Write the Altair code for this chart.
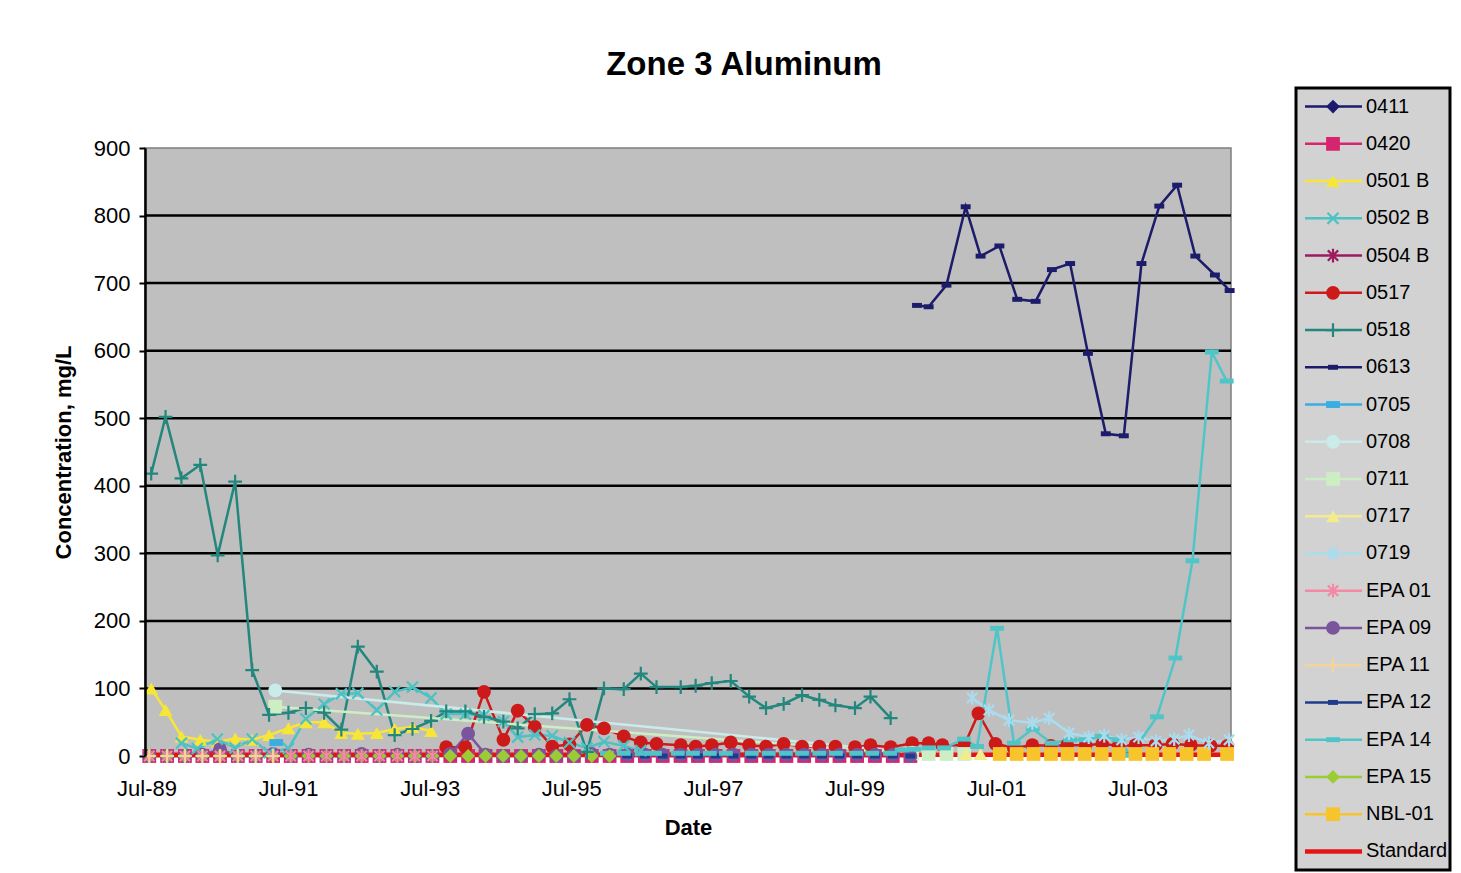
import altair as alt
import pandas as pd

FONT = "Liberation Sans"

SERIES = ["0411", "0420", "0501 B", "0502 B", "0504 B", "0517", "0518", "0613",
          "0705", "0708", "0711", "0717", "0719", "EPA 01", "EPA 09", "EPA 11",
          "EPA 12", "EPA 14", "EPA 15", "NBL-01", "Standard"]
COLORS = ["#1c1a6e", "#d6246e", "#f7e636", "#4cc2c4", "#9c1a5e", "#cc1a1a", "#23877d", "#1c1c6a",
          "#3aaee0", "#c9ecea", "#cdeec4", "#f2ec8c", "#a9dcee", "#f28aa6", "#7a559e", "#f2d49c",
          "#1f3c8c", "#4fc5c8", "#9ccc34", "#f8c42c", "#e41414"]
P_X = "M-0.8,-0.8L0.8,0.8M-0.8,0.8L0.8,-0.8"
P_AST = "M-0.75,-0.75L0.75,0.75M-0.75,0.75L0.75,-0.75M0,-1L0,1"
P_PLUS = "M-1,0L1,0M0,-1L0,1"
P_RECT_S = "M-0.72,-0.36L0.72,-0.36L0.72,0.36L-0.72,0.36Z"
P_RECT_W = "M-1,-0.36L1,-0.36L1,0.36L-1,0.36Z"
P_RECT_M = "M-1,-0.5L1,-0.5L1,0.5L-1,0.5Z"
SHAPES = ["diamond", "square", "triangle-up", P_X, P_AST, "circle", P_PLUS, P_RECT_S,
          P_RECT_M, "circle", "square", "triangle-up", P_AST, P_AST, "circle", P_PLUS,
          P_RECT_S, P_RECT_W, "diamond", "square", "circle"]
STROKED = ["0502 B", "0504 B", "0518", "0719", "EPA 01", "EPA 11"]

Y_TICKS = [0, 100, 200, 300, 400, 500, 600, 700, 800, 900]
GRID_VALUES = [100, 200, 300, 400, 500, 600, 700, 800]
TICK_YEARS = [1989, 1991, 1993, 1995, 1997, 1999, 2001, 2003]
X_START = "1989-06-23"
X_END = "2004-10-25"

Q_DATES = ["1989-07-15", "1989-10-15", "1990-01-15", "1990-04-15", "1990-07-15", "1990-10-15",
           "1991-01-15", "1991-04-15", "1991-07-15", "1991-10-15",
           "1992-01-15", "1992-04-15", "1992-07-15", "1992-10-15",
           "1993-01-15", "1993-04-15", "1993-07-15", "1993-10-15",
           "1994-01-15", "1994-04-15", "1994-07-15", "1994-10-15",
           "1995-01-15", "1995-04-15", "1995-07-15", "1995-10-15",
           "1996-01-15", "1996-04-15", "1996-07-15", "1996-10-15",
           "1997-01-15", "1997-04-15", "1997-07-15", "1997-10-15",
           "1998-01-15", "1998-04-15", "1998-07-15", "1998-10-15",
           "1999-01-15", "1999-04-15", "1999-07-15", "1999-10-15",
           "2000-01-15", "2000-04-15"]

D_0411 = Q_DATES[:8]
V_0411 = [0, 0, 0, 0, 0, 0, 0, 0]

D_0420 = Q_DATES
V_0420 = [0, 0, 0, 0, 0, 0, 0, 0, 0, 0, 0, 0, 0, 0, 0, 0, 0, 0, 0, 0, 0, 0,
          0, 0, 0, 0, 0, 0, 0, 0, 0, 0, 0, 0, 0, 0, 0, 0, 0, 0, 0, 0, 0, 0]

D_0501B = ["1989-07-25", "1989-10-07", "1989-12-28", "1990-04-04", "1990-07-03", "1990-10-01",
           "1990-12-28", "1991-03-25", "1991-07-03", "1991-10-01", "1992-01-03", "1992-04-01",
           "1992-06-25", "1992-10-01", "1993-01-01", "1993-04-03", "1993-07-08"]
V_0501B = [100, 68, 29, 24, 21, 26, 24, 31, 41, 50, 50, 34, 33, 34, 40, 43, 37]

D_0502B = ["1989-12-28", "1990-03-20", "1990-07-01", "1990-10-01", "1990-12-28", "1991-03-25",
           "1991-07-03", "1991-10-01", "1992-01-03", "1992-04-01", "1992-06-25", "1992-10-01",
           "1993-01-01", "1993-04-03", "1993-07-08", "1993-09-24", "1994-01-01", "1994-04-07",
           "1994-07-16", "1994-09-28", "1994-12-25", "1995-03-25", "1995-06-22", "1995-09-20",
           "1995-12-17", "1996-03-28", "1996-06-24"]
V_0502B = [19, 11, 25, 12, 25, 5, 11, 55, 77, 92, 93, 68, 95, 102, 86, 62, 62, 60, 51, 28,
           31, 30, 20, 12, 21, 15, 8]

D_0504B = Q_DATES[:17]
V_0504B = [0, 0, 0, 0, 0, 0, 0, 0, 0, 0, 0, 0, 0, 0, 0, 0, 0]

D_0517 = ["1993-09-24", "1994-01-01", "1994-04-07", "1994-07-16", "1994-09-28", "1994-12-25",
          "1995-03-25", "1995-06-22", "1995-09-20", "1995-12-17", "1996-03-28", "1996-06-24",
          "1996-09-13", "1997-01-16", "1997-04-03", "1997-06-25", "1997-10-01", "1998-01-04",
          "1998-04-01", "1998-07-01", "1998-10-04", "1999-01-01", "1999-03-25", "1999-07-04",
          "1999-09-22", "2000-01-04", "2000-04-24", "2000-07-18", "2000-09-27", "2001-01-18",
          "2001-04-01", "2001-06-28", "2001-10-01", "2002-01-04", "2002-04-10", "2002-07-03",
          "2002-10-06", "2002-12-31", "2003-03-25", "2003-06-20", "2003-10-01", "2003-12-28",
          "2004-04-01", "2004-07-12", "2004-10-06"]
V_0517 = [13, 13, 95, 24, 67, 43, 14, 17, 46, 41, 29, 20, 18, 16, 14, 16, 20, 16, 14, 18,
          14, 14, 14, 13, 16, 13, 19, 19, 16, 16, 63, 18, 12, 16, 15, 16, 16, 18, 15, 16,
          16, 18, 16, 15, 15]

D_0518 = ["1989-07-25", "1989-10-07", "1989-12-28", "1990-04-04", "1990-07-03", "1990-10-01",
          "1990-12-28", "1991-03-25", "1991-07-03", "1991-10-01", "1992-01-03", "1992-04-01",
          "1992-06-25", "1992-10-01", "1993-01-01", "1993-04-03", "1993-07-08", "1993-09-24",
          "1994-01-01", "1994-04-07", "1994-07-16", "1994-09-28", "1994-12-25", "1995-03-25",
          "1995-06-22", "1995-09-20", "1995-12-17", "1996-03-28", "1996-06-24", "1996-09-13",
          "1997-01-16", "1997-04-03", "1997-06-25", "1997-10-01", "1998-01-04", "1998-04-01",
          "1998-07-01", "1998-10-04", "1999-01-01", "1999-03-25", "1999-07-04", "1999-09-22",
          "2000-01-04"]
V_0518 = [418, 502, 411, 431, 297, 406, 127, 61, 64, 71, 64, 39, 162, 125, 31, 40, 52, 66,
          66, 58, 51, 41, 62, 63, 84, 6, 100, 99, 122, 102, 102, 104, 108, 111, 88, 71, 77,
          90, 83, 75, 71, 88, 56]

D_0613 = ["2000-05-19", "2000-07-18", "2000-10-18", "2001-01-25", "2001-04-12", "2001-07-18",
          "2001-10-18", "2002-01-21", "2002-04-15", "2002-07-18", "2002-10-18", "2003-01-18",
          "2003-04-21", "2003-07-21", "2003-10-21", "2004-01-21", "2004-04-24", "2004-08-03",
          "2004-10-18"]
V_0613 = [667, 665, 697, 813, 740, 755, 676, 673, 720, 729, 596, 477, 474, 729, 814, 845,
          740, 712, 689]

D_0705 = ["1991-05-01"]
V_0705 = [20]

D_0708 = ["1991-04-26", "2000-04-24", "2000-07-18", "2000-10-18"]
V_0708 = [97, 5, 4, 3]

D_0711 = ["1991-04-26", "2000-04-24", "2000-07-18", "2000-10-18", "2001-01-18"]
V_0711 = [73, 4, 3, 3, 3]

D_0717 = ["2001-01-25", "2001-04-12"]
V_0717 = [3, 3]

D_0719 = ["2001-02-28", "2001-05-25", "2001-09-05", "2002-01-04", "2002-04-01", "2002-07-12",
          "2002-10-22", "2003-01-10", "2003-04-10", "2003-07-06", "2003-10-04", "2004-01-06",
          "2004-03-22", "2004-07-03", "2004-10-15"]
V_0719 = [86, 68, 53, 49, 56, 34, 28, 30, 24, 28, 22, 25, 31, 19, 24]

D_EPA01 = Q_DATES[:17]
V_EPA01 = [0, 0, 0, 0, 0, 0, 0, 0, 0, 0, 0, 0, 0, 0, 0, 0, 0]

D_EPA09 = Q_DATES
V_EPA09 = [0, 0, 0, 2, 10, 0, 0, 3, 0, 2, 0, 0, 3, 0, 2, 0, 0, 3, 33, 2, 0, 0,
           2, 0, 0, 3, 2, 2, 2, 2, 2, 2, 2, 2, 2, 2, 2, 2, 2, 2, 2, 2, 2, 0]

D_EPA11 = Q_DATES[:8]
V_EPA11 = [0, 0, 0, 0, 0, 0, 0, 0]

D_EPA12 = Q_DATES[26:44]
V_EPA12 = [0, 0, 0, 0, 0, 0, 0, 0, 0, 0, 0, 0, 0, 0, 0, 0, 0, 0]

D_EPA14 = ["1996-01-01", "1996-03-28", "1996-06-28", "1996-09-05", "1997-01-01", "1997-03-20",
           "1997-06-15", "1997-09-06", "1998-01-18", "1998-04-15", "1998-07-12", "1998-10-04",
           "1999-01-01", "1999-03-28", "1999-07-10", "1999-10-01", "2000-01-01", "2000-03-01",
           "2000-05-03", "2000-07-18", "2000-10-06", "2001-01-16", "2001-03-25", "2001-07-06",
           "2001-10-01", "2002-01-06", "2002-04-15", "2002-07-18", "2002-10-06", "2002-12-28",
           "2003-03-25", "2003-05-25", "2003-10-09", "2004-01-12", "2004-04-09", "2004-07-18",
           "2004-10-03"]
V_EPA14 = [4, 4, 4, 4, 4, 4, 4, 4, 4, 4, 4, 4, 4, 4, 4, 4, 4, 9, 10, 12, 12,
           25, 14, 189, 19, 40, 19, 24, 24, 29, 24, 1, 58, 145, 289, 598, 555]

D_EPA15 = Q_DATES[:27]
V_EPA15 = [0, 0, 0, 0, 0, 0, 0, 0, 0, 0, 0, 0, 0, 0, 0, 0, 0, 0, 0, 0, 0, 0, 0, 0, 0, 0, 0]

D_NBL01 = ["2001-07-20", "2001-10-15", "2002-01-10", "2002-04-10", "2002-07-05", "2002-10-01",
           "2002-12-28", "2003-03-25", "2003-06-20", "2003-09-15", "2003-12-12", "2004-03-10",
           "2004-06-08", "2004-10-05"]
V_NBL01 = [3, 3, 3, 3, 3, 3, 3, 3, 3, 3, 3, 3, 3, 3]

D_STD = ["1989-07-01", "2004-10-25"]
V_STD = [2, 2]

parts = [
    ("0411", D_0411, V_0411), ("0420", D_0420, V_0420), ("0501 B", D_0501B, V_0501B),
    ("0502 B", D_0502B, V_0502B), ("0504 B", D_0504B, V_0504B), ("0517", D_0517, V_0517),
    ("0518", D_0518, V_0518), ("0613", D_0613, V_0613), ("0705", D_0705, V_0705),
    ("0708", D_0708, V_0708), ("0711", D_0711, V_0711), ("0717", D_0717, V_0717),
    ("0719", D_0719, V_0719), ("EPA 01", D_EPA01, V_EPA01), ("EPA 09", D_EPA09, V_EPA09),
    ("EPA 11", D_EPA11, V_EPA11), ("EPA 12", D_EPA12, V_EPA12), ("EPA 14", D_EPA14, V_EPA14),
    ("EPA 15", D_EPA15, V_EPA15), ("NBL-01", D_NBL01, V_NBL01), ("Standard", D_STD, V_STD),
]
df = pd.concat(
    [pd.DataFrame({"series": name, "date": pd.to_datetime(d), "value": v}) for name, d, v in parts],
    ignore_index=True,
)
df["date"] = df["date"].dt.strftime("%Y-%m-%dT00:00:00")

PLOT_W = 1086
VIEW_H = 668          # view spans legend top .. x axis
PLOT_TOP = 60         # plot area begins 60 px below the view top

color_scale = alt.Scale(domain=SERIES, range=COLORS)
shape_scale = alt.Scale(domain=SERIES, range=SHAPES)
col_enc = alt.Color("series:N", scale=color_scale, legend=None)
shp_enc = alt.Shape("series:N", scale=shape_scale, legend=None)
filled_filter = {"not": {"field": "series", "oneOf": STROKED + ["Standard"]}}
stroked_filter = {"field": "series", "oneOf": STROKED}
width_cond = alt.condition(alt.datum.series == "Standard", alt.value(4.5), alt.value(2.5))

x_scale = alt.Scale(domain=[alt.DateTime(year=1989, month=6, date=23),
                            alt.DateTime(year=2004, month=10, date=25)])
y_scale = alt.Scale(domain=[0, 900], nice=False, range=[VIEW_H, PLOT_TOP])

x_axis = alt.Axis(title="Date", values=[alt.DateTime(year=yy, month=7, date=1) for yy in TICK_YEARS],
                  format="%b-%y", labelFontSize=22, titleFontSize=22, titleFontWeight="bold",
                  labelPadding=22, titlePadding=18, ticks=False, tickSize=0, domain=False,
                  grid=False, labelColor="black", titleColor="black", labelFlush=False,
                  labelFont=FONT, titleFont=FONT)
y_axis = alt.Axis(title="Concentration, mg/L", values=Y_TICKS, labelFontSize=22, titleFontSize=22,
                  titleFontWeight="bold", tickSize=6, tickColor="black", tickWidth=2,
                  domainColor="black", domainWidth=2.5, grid=False, labelPadding=9,
                  titlePadding=18, labelColor="black", titleColor="black",
                  labelFont=FONT, titleFont=FONT, zindex=1)

x_enc = alt.X("date:T", scale=x_scale, axis=x_axis)
y_enc = alt.Y("value:Q", scale=y_scale, axis=y_axis)

bg_df = pd.DataFrame({"x0": [X_START + "T00:00:00"], "x1": [X_END + "T00:00:00"],
                      "y0": [Y_TICKS[0]], "y1": [Y_TICKS[-1]]})
background = alt.Chart(bg_df).mark_rect(fill="#bfbfbf", stroke="#7f7f7f", strokeWidth=1.5).encode(
    x=alt.X("x0:T", scale=x_scale, axis=x_axis), x2="x1:T",
    y=alt.Y("y0:Q", scale=y_scale, axis=y_axis), y2="y1:Q")

grid_df = pd.DataFrame({"g": GRID_VALUES})
gridlines = alt.Chart(grid_df).mark_rule(color="black", strokeWidth=2.5).encode(
    y=alt.Y("g:Q", scale=y_scale, axis=y_axis))

base = alt.Chart(df)
lines = base.mark_line().encode(x=x_enc, y=y_enc, color=col_enc, strokeWidth=width_cond)
pts_f = base.transform_filter(filled_filter).mark_point(filled=True, opacity=1, size=190).encode(
    x=x_enc, y=y_enc, color=col_enc, shape=shp_enc)
pts_s = base.transform_filter(stroked_filter).mark_point(filled=False, opacity=1, size=190,
                                                         strokeWidth=2.2).encode(
    x=x_enc, y=y_enc, color=col_enc, shape=shp_enc)

main = alt.layer(background, gridlines, lines, pts_f, pts_s).properties(
    width=PLOT_W, height=VIEW_H,
    title=alt.TitleParams("Zone 3 Aluminum", fontSize=33, fontWeight="bold", font=FONT,
                          color="black", offset=6, dx=56, anchor="middle", frame="group"),
    view=alt.ViewBackground(fill="white", stroke="transparent"),
)

leg_df = pd.DataFrame({"series": SERIES})
ly = alt.Y("series:N", scale=alt.Scale(type="point", domain=SERIES, padding=0.5), axis=None)
lbase = alt.Chart(leg_df)
l_rule = lbase.mark_rule().encode(y=ly, x=alt.value(9), x2=alt.value(66), color=col_enc,
                                  strokeWidth=width_cond)
l_pf = lbase.transform_filter(filled_filter).mark_point(filled=True, opacity=1, size=190).encode(
    y=ly, x=alt.value(37), color=col_enc, shape=shp_enc)
l_ps = lbase.transform_filter(stroked_filter).mark_point(filled=False, opacity=1, size=190,
                                                         strokeWidth=2.2).encode(
    y=ly, x=alt.value(37), color=col_enc, shape=shp_enc)
l_txt = lbase.mark_text(align="left", baseline="middle", fontSize=20, font=FONT,
                        color="black").encode(y=ly, x=alt.value(70), text="series:N")
legend = alt.layer(l_rule, l_pf, l_ps, l_txt).properties(
    width=154, height=782,
    view=alt.ViewBackground(fill="#d2d2d2", stroke="black", strokeWidth=3),
)

chart = alt.hconcat(main, legend, spacing=53).resolve_scale(
    x="independent", y="independent", color="shared", shape="shared"
).properties(
    padding={"left": 43, "top": 40, "right": 0, "bottom": 0},
    background="white",
).configure(font=FONT)

chart.save("out.html", embed_options={"renderer": "svg", "actions": False})
